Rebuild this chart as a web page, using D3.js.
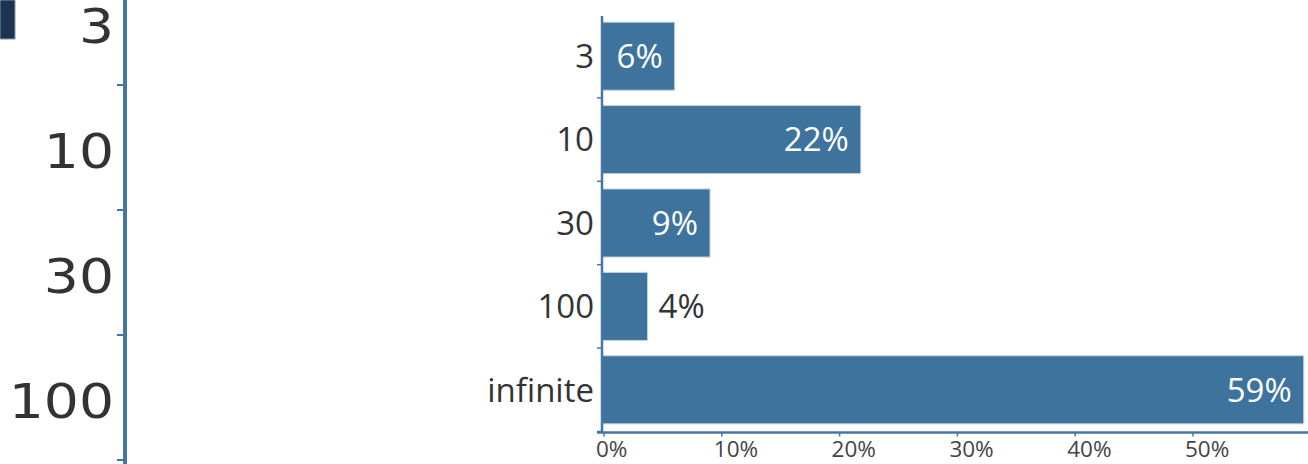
<!DOCTYPE html>
<html>
<head>
<meta charset="utf-8">
<script src="https://cdn.jsdelivr.net/npm/d3@7"></script>
<style>
  html, body { margin: 0; padding: 0; background: #ffffff; }
  svg { display: block; }
</style>
</head>
<body>
<svg id="chart" width="1308" height="464"></svg>
<script>
// ---- data ----
const categories = ["3", "10", "30", "100", "infinite"];
const shares = [6.0, 21.8, 9.0, 3.7, 59.4];          // percent
const valueLabels = ["6%", "22%", "9%", "4%", "59%"];
const xTickValues = [0, 10, 20, 30, 40, 50];
const xTickLabels = ["0%", "10%", "20%", "30%", "40%", "50%"];
// enlarged axis fragment on the left
const leftCategories = ["3", "10", "30", "100"];

// ---- style ----
const barColor = "#3d739d";
const axisColor = "#4677a3";
const textColor = "#333333";
const font = "'Open Sans', 'Noto Sans', sans-serif";

const svg = d3.select("#chart");

// ---- scales ----
const x = d3.scaleLinear().domain([0, 50]).range([604, 1193]);
const y = d3.scaleBand().domain(categories).range([14.5, 431.5]).padding(0);
const barInset = 0.092;

const leftY = d3.scaleBand().domain(leftCategories).range([-40, 460]).padding(0);

// ---- left enlarged fragment ----
svg.append("rect")
  .attr("x", 0).attr("y", 0).attr("width", 15).attr("height", 39)
  .attr("fill", "#1c3450").attr("stroke", "#7f97ad").attr("stroke-width", 1);

svg.append("line")
  .attr("x1", 125).attr("x2", 125).attr("y1", 0).attr("y2", 464)
  .attr("stroke", axisColor).attr("stroke-width", 4);

svg.selectAll(".ltick").data(leftCategories).join("line")
  .attr("x1", 117).attr("x2", 124)
  .attr("y1", d => leftY(d) + leftY.bandwidth())
  .attr("y2", d => leftY(d) + leftY.bandwidth())
  .attr("stroke", axisColor).attr("stroke-width", 2);

svg.selectAll(".llabel").data(leftCategories).join("text")
  .attr("transform", d => `translate(114,${leftY(d) + leftY.bandwidth() / 2}) scale(1.15,1)`)
  .attr("dy", "0.43em")
  .attr("text-anchor", "end")
  .attr("font-family", "'DejaVu Sans', Verdana, sans-serif")
  .attr("font-size", 48)
  .attr("fill", textColor)
  .text(d => d);

// ---- bars ----
const rows = categories.map((c, i) => ({ c, v: shares[i], label: valueLabels[i] }));
const inside = d => x(d.v) - x(0) > 50;

svg.selectAll(".bar").data(rows).join("rect")
  .attr("x", x(0) - 2)
  .attr("y", d => y(d.c) + y.bandwidth() * barInset)
  .attr("width", d => x(d.v) - x(0) + 2)
  .attr("height", y.bandwidth() * (1 - 2 * barInset))
  .attr("fill", barColor)
  .attr("stroke", "#c3d5e5")
  .attr("stroke-width", 1);

// value labels
svg.selectAll(".vlabel").data(rows).join("text")
  .attr("x", d => inside(d) ? x(d.v) - 12 : x(d.v) + 11)
  .attr("y", d => y(d.c) + y.bandwidth() / 2)
  .attr("dy", "0.36em")
  .attr("text-anchor", d => inside(d) ? "end" : "start")
  .attr("font-family", font)
  .attr("font-size", 33)
  .attr("fill", d => inside(d) ? "#ffffff" : textColor)
  .text(d => d.label);

// ---- y axis ----
svg.append("line")
  .attr("x1", 602).attr("x2", 602)
  .attr("y1", y.range()[0] + 1.5).attr("y2", y.range()[1] + 1)
  .attr("stroke", axisColor).attr("stroke-width", 2.5);

svg.selectAll(".ytick").data(categories).join("line")
  .attr("x1", 597).attr("x2", 602)
  .attr("y1", d => y(d) + y.bandwidth())
  .attr("y2", d => y(d) + y.bandwidth())
  .attr("stroke", axisColor).attr("stroke-width", 1.5);

svg.selectAll(".ylabel").data(categories).join("text")
  .attr("x", 594)
  .attr("y", d => y(d) + y.bandwidth() / 2)
  .attr("dy", "0.36em")
  .attr("text-anchor", "end")
  .attr("font-family", font)
  .attr("font-size", 33)
  .attr("fill", textColor)
  .text(d => d);

// ---- x axis ----
const xAxisY = y.range()[1] + 1;
svg.append("line")
  .attr("x1", 597).attr("x2", 1308)
  .attr("y1", xAxisY).attr("y2", xAxisY)
  .attr("stroke", axisColor).attr("stroke-width", 2.5);

svg.selectAll(".xtick").data(xTickValues).join("line")
  .attr("x1", d => x(d)).attr("x2", d => x(d))
  .attr("y1", xAxisY).attr("y2", xAxisY + 4)
  .attr("stroke", axisColor).attr("stroke-width", 1.5);

svg.selectAll(".xlabel").data(xTickValues).join("text")
  .attr("x", d => x(d) - 8)
  .attr("y", 457)
  .attr("text-anchor", "start")
  .attr("font-family", font)
  .attr("font-size", 22.5)
  .attr("fill", "#444444")
  .text((d, i) => xTickLabels[i]);
</script>
</body>
</html>
